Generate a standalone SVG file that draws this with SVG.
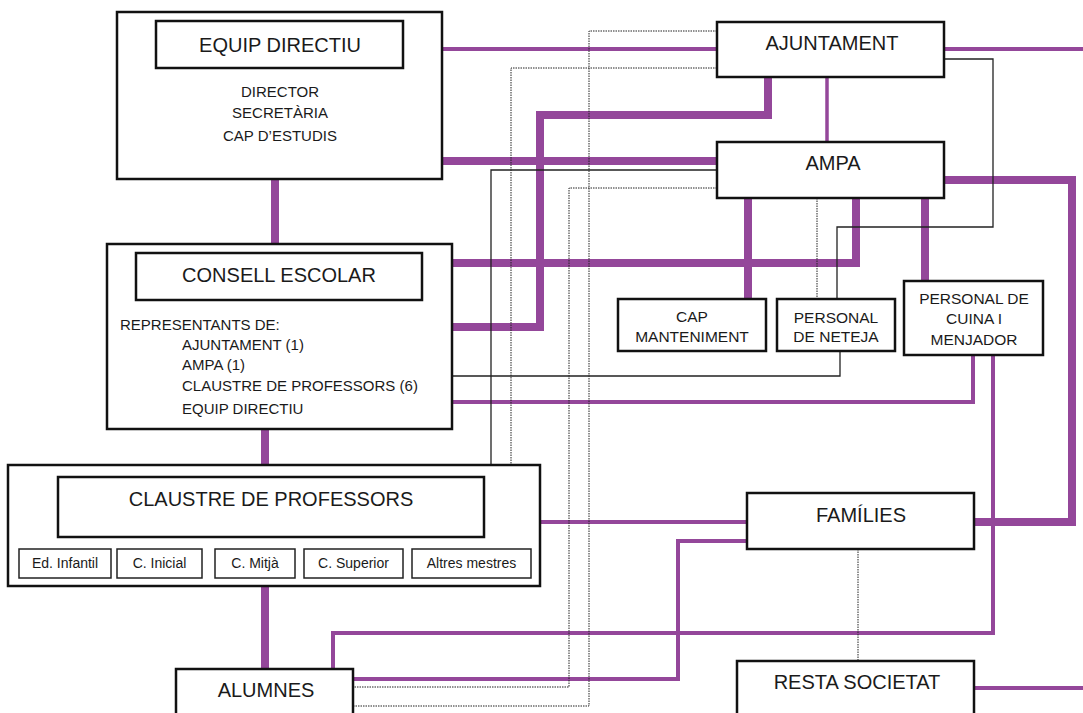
<svg xmlns="http://www.w3.org/2000/svg" width="1083" height="713" viewBox="0 0 1083 713">
<style>
.box{fill:#fff;stroke:#111;stroke-width:2.5}
.sub{fill:#fff;stroke:#222;stroke-width:1.5}
.t{font-family:"Liberation Sans",Arial,sans-serif;fill:#1a1a1a}
.title{font-size:20px;text-anchor:middle}
.body{font-size:15px}
.mid{text-anchor:middle}
.small{font-size:14px;text-anchor:middle}
.pt{fill:none;stroke:#94479A;stroke-width:4}
.pk{fill:none;stroke:#94479A;stroke-width:8}
.bk{fill:none;stroke:#222;stroke-width:1.3}
.dt{fill:none;stroke:#222;stroke-width:1;stroke-dasharray:1.5,1}
</style>
<rect width="1083" height="713" fill="#fff"/>
<g id="connectors">
<path class="pt" d="M442,49 H717"/>
<path class="pt" d="M944,49 H1083"/>
<path class="pk" d="M442,161 H717"/>
<path class="pk" d="M275,179 V244"/>
<path class="pk" d="M768,77 V115 H540 V327 H452"/>
<path class="pt" d="M827,77 V142" style="stroke-width:3.5"/>
<path class="pk" d="M452,263 H856 V198"/>
<path class="pk" d="M748,198 V299"/>
<path class="pk" d="M925,198 V281"/>
<path class="pk" d="M944,180 H1072 V522 H974"/>
<path class="pt" d="M452,402 H973 V355"/>
<path class="pt" d="M993,355 V633 H333 V668"/>
<path class="pt" d="M540,522 H747"/>
<path class="pt" d="M747,541 H678 V679 H353"/>
<path class="pk" d="M265,429 V465"/>
<path class="pk" d="M265,586 V669"/>
<path class="pt" d="M974,688 H1083"/>
<path class="bk" d="M944,59 H993 V227 H837 V299"/>
<path class="bk" d="M840,351 V376 H452"/>
<path class="bk" d="M717,170 H491 V465"/>
<path class="dt" d="M717,31 H589 V706 H353"/>
<path class="dt" d="M717,68 H511 V465"/>
<path class="dt" d="M717,188 H569 V687 H353"/>
<path class="dt" d="M817,198 V299"/>
<path class="dt" d="M858,549 V661"/>
</g>
<g id="equip-directiu">
<rect class="box" x="117" y="12" width="325" height="167"/>
<rect class="box" x="156" y="21" width="247" height="47"/>
<text class="t title" x="280" y="52">EQUIP DIRECTIU</text>
<text class="t body mid" x="280" y="97">DIRECTOR</text>
<text class="t body mid" x="280" y="118">SECRETÀRIA</text>
<text class="t body mid" x="280" y="141">CAP D’ESTUDIS</text>
</g>
<g id="ajuntament">
<rect class="box" x="717" y="22" width="227" height="55"/>
<text class="t title" x="832" y="50">AJUNTAMENT</text>
</g>
<g id="ampa">
<rect class="box" x="717" y="142" width="227" height="56"/>
<text class="t title" x="833" y="170">AMPA</text>
</g>
<g id="consell-escolar">
<rect class="box" x="107" y="244" width="345" height="185"/>
<rect class="box" x="136" y="253" width="286" height="47"/>
<text class="t title" x="279" y="282">CONSELL ESCOLAR</text>
<text class="t body" x="120" y="330">REPRESENTANTS DE:</text>
<text class="t body" x="182" y="350">AJUNTAMENT (1)</text>
<text class="t body" x="182" y="370">AMPA (1)</text>
<text class="t body" x="182" y="391">CLAUSTRE DE PROFESSORS (6)</text>
<text class="t body" x="182" y="414">EQUIP DIRECTIU</text>
</g>
<g id="cap-manteniment">
<rect class="box" x="618" y="299" width="148" height="52"/>
<text class="t mid" style="font-size:15.5px" x="692" y="322">CAP</text>
<text class="t mid" style="font-size:15.5px" x="692" y="342">MANTENIMENT</text>
</g>
<g id="personal-neteja">
<rect class="box" x="777" y="299" width="118" height="52"/>
<text class="t mid" style="font-size:15.5px" x="836" y="323">PERSONAL</text>
<text class="t mid" style="font-size:15.5px" x="836" y="342">DE NETEJA</text>
</g>
<g id="personal-cuina">
<rect class="box" x="904" y="281" width="139" height="74"/>
<text class="t mid" style="font-size:15.5px" x="974" y="304">PERSONAL DE</text>
<text class="t mid" style="font-size:15.5px" x="974" y="324">CUINA I</text>
<text class="t mid" style="font-size:15.5px" x="974" y="345">MENJADOR</text>
</g>
<g id="claustre">
<rect class="box" x="8" y="465" width="532" height="121"/>
<rect class="box" x="58" y="477" width="426" height="60"/>
<text class="t title" x="271" y="506">CLAUSTRE DE PROFESSORS</text>
<rect class="sub" x="19" y="549" width="92" height="29"/>
<text class="t small" x="65" y="568">Ed. Infantil</text>
<rect class="sub" x="117" y="549" width="85" height="29"/>
<text class="t small" x="159.5" y="568">C. Inicial</text>
<rect class="sub" x="215" y="549" width="80" height="29"/>
<text class="t small" x="255" y="568">C. Mitjà</text>
<rect class="sub" x="304" y="549" width="99" height="29"/>
<text class="t small" x="353.5" y="568">C. Superior</text>
<rect class="sub" x="412" y="549" width="119" height="29"/>
<text class="t small" x="471.5" y="568">Altres mestres</text>
</g>
<g id="families">
<rect class="box" x="747" y="493" width="227" height="56"/>
<text class="t title" x="861" y="522">FAMÍLIES</text>
</g>
<g id="alumnes">
<rect class="box" x="176" y="669" width="177" height="60"/>
<text class="t title" x="266" y="697">ALUMNES</text>
</g>
<g id="resta-societat">
<rect class="box" x="737" y="661" width="237" height="60"/>
<text class="t title" x="857" y="689">RESTA SOCIETAT</text>
</g>
</svg>
